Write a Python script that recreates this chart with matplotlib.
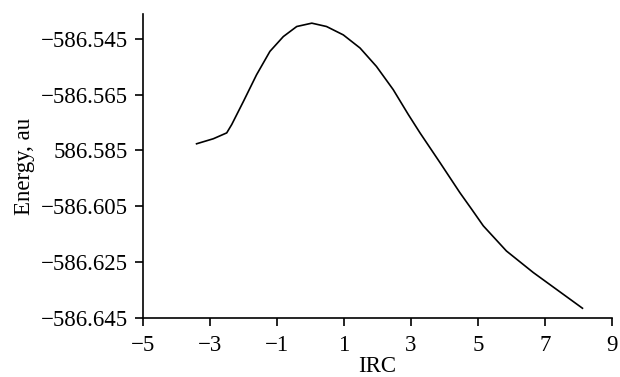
import matplotlib.pyplot as plt
from matplotlib.ticker import FixedLocator

# IRC path, values
irc = [-3.40, -2.90, -2.50, -2.35, -2.00, -1.61, -1.21, -0.81, -0.41, 0.04,
       0.48, 0.98, 1.48, 1.97, 2.47, 2.92, 3.27, 3.87, 4.46, 4.81, 5.16,
       5.85, 6.65, 8.12]
energy = [-586.5826, -586.5808, -586.5787, -586.5757, -586.5674, -586.5579,
          -586.5495, -586.5442, -586.5406, -586.5394, -586.5406, -586.5436,
          -586.5483, -586.5549, -586.5632, -586.5721, -586.5787, -586.5894,
          -586.6001, -586.6060, -586.6120, -586.6210, -586.6287, -586.6415]

xticks = [-5, -3, -1, 1, 3, 5, 7, 9]
xlabels = ['\u22125', '\u22123', '\u22121', '1', '3', '5', '7', '9']
yticks = [-586.545, -586.565, -586.585, -586.605, -586.625, -586.645]
ylabels = ['\u2212586.545', '\u2212586.565', '586.585', '\u2212586.605',
           '\u2212586.625', '\u2212586.645']

plt.rcParams['font.family'] = ['Liberation Serif', 'DejaVu Serif']
plt.rcParams['font.size'] = 16.5

fig = plt.figure(figsize=(6.2, 3.77), dpi=100)
ax = fig.add_axes([0.2306, 0.1565, 0.987 - 0.2306, 0.963 - 0.1565])
ax.plot(irc, energy, color='black', lw=1.2)

ax.set_xlim(-5, 9)
ax.set_ylim(-586.645, -586.5361)
ax.xaxis.set_major_locator(FixedLocator(xticks))
ax.set_xticklabels(xlabels)
ax.yaxis.set_major_locator(FixedLocator(yticks))
ax.set_yticklabels(ylabels)
ax.tick_params(direction='out', length=6, width=1.2)
ax.tick_params(axis='x', pad=6)
ax.tick_params(axis='y', pad=5)

ax.spines['top'].set_visible(False)
ax.spines['right'].set_visible(False)
ax.spines['left'].set_linewidth(1.2)
ax.spines['bottom'].set_linewidth(1.2)

ax.set_xlabel('IRC', labelpad=0)
ax.set_ylabel('Energy, au', labelpad=4)

fig.savefig('out.png', dpi=100)
